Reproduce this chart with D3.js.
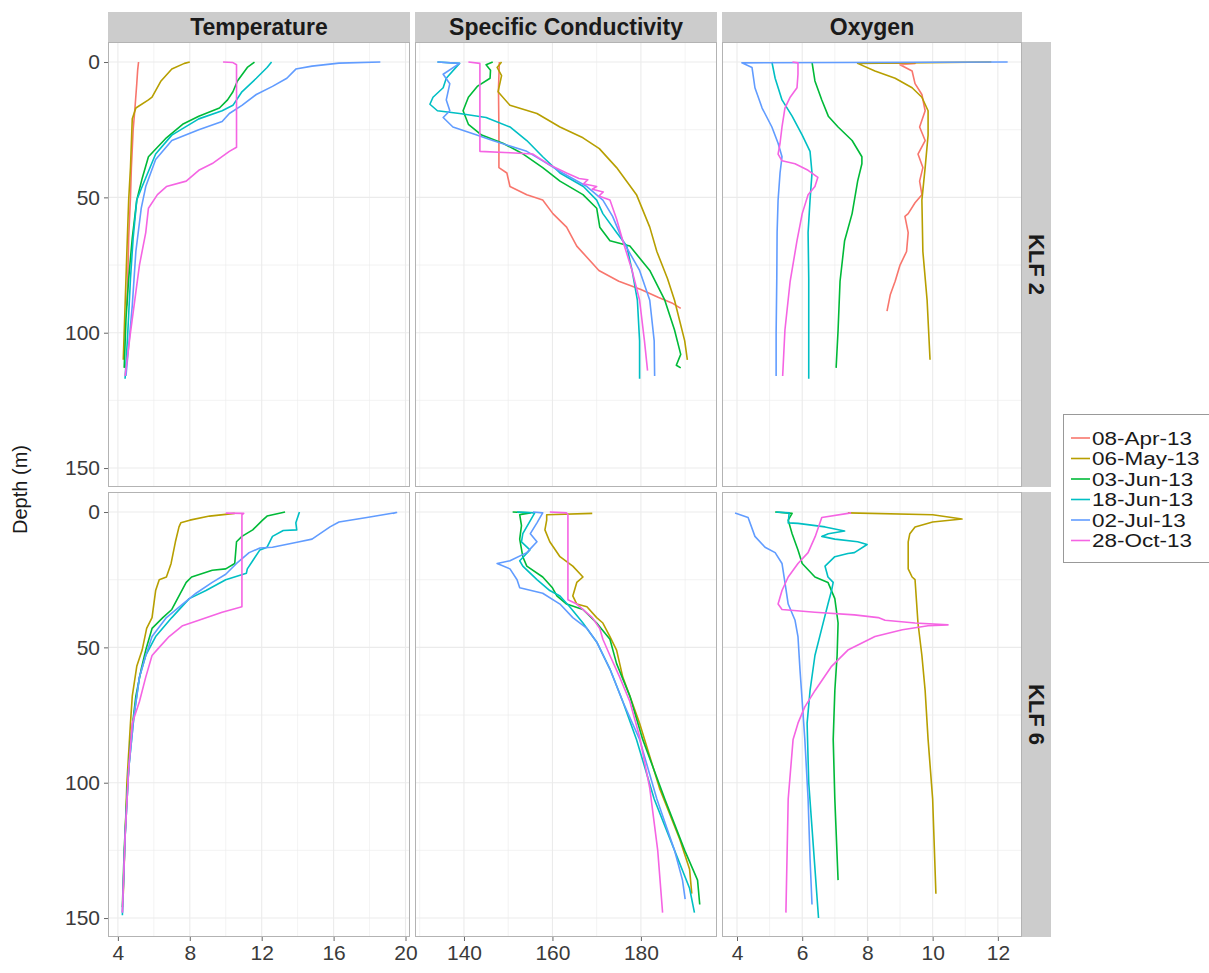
<!DOCTYPE html>
<html><head><meta charset="utf-8">
<script src="https://cdn.jsdelivr.net/npm/d3@7"></script>
<style>
body{margin:0;background:#fff;}
svg text{font-family:"Liberation Sans",Arial,sans-serif;}
</style></head>
<body><svg id="chart" width="1209" height="973"></svg>
<script>
// ---------------- data ----------------
const dates = ["08-Apr-13","06-May-13","03-Jun-13","18-Jun-13","02-Jul-13","28-Oct-13"];
const colors = ["#F8766D","#B79F00","#00BA38","#00BFC4","#619CFF","#F564E3"];
const variables = ["Temperature","Specific Conductivity","Oxygen"];
const sites = ["KLF 2","KLF 6"];
const depthTicks = [0,50,100,150];
const tempTicks = [4,8,12,16,20];
const condTicks = [140,160,180];
const oxyTicks = [4,6,8,10,12];

// each series: [value, depth]; order follows dates, null = not sampled
const klf2Temperature = [
  [[5.15,0],[5.1,3],[5.05,8],[4.95,17],[4.85,25],[4.75,39],[4.7,50],[4.6,65],[4.55,80],[4.5,90]],
  [[8.0,0],[7.7,0.5],[7.0,2.6],[6.4,7],[5.9,13],[5.7,14],[5.0,17],[4.8,21],[4.7,39],[4.6,51],[4.5,70],[4.4,90],[4.3,110]],
  [[11.6,0],[11.2,2],[10.65,7],[10.4,11],[10.1,14],[9.65,17],[8.5,20],[7.6,23],[6.7,28],[5.7,35],[5.35,43],[5.05,51],[4.8,65],[4.6,80],[4.45,95],[4.35,113]],
  [[12.55,0],[12.3,2],[11.7,6],[10.9,11],[10.4,16],[9.8,18],[8.5,21],[7.0,27],[6.1,34],[5.35,46],[5.05,51],[4.85,65],[4.7,80],[4.55,100],[4.4,117]],
  [[18.6,0],[16.3,0.4],[14.8,1.5],[13.9,2.6],[13.4,6],[12.6,9],[11.7,12],[10.9,16],[10.2,19],[9.8,22],[8.5,25],[7.0,29],[6.1,36],[5.55,46],[5.3,54],[5.0,70],[4.8,90],[4.6,105],[4.45,116]],
  [[9.85,0],[10.4,0.2],[10.6,1],[10.6,15],[10.6,31.5],[10.2,33],[9.25,37.5],[8.5,40],[7.8,44],[6.7,46],[6.2,49],[5.7,54],[5.55,63],[5.2,75],[5.0,85],[4.7,100],[4.4,116]]
];
const klf2Conductivity = [
  [[148,0],[147.8,10],[147.9,25],[147.9,39],[149.7,41],[150.4,46],[154.2,49],[157.8,51],[160.1,56],[163.2,61],[165.5,68],[170.5,77],[175,81],[180,84],[184,87],[187,89],[189,91]],
  [[148.5,0],[147.5,2],[148.5,5],[147.7,11],[150.4,16],[156.5,19],[161.7,24],[166.9,28],[170.6,32],[174.5,39],[179,49],[182,61],[183.6,70],[186,80],[187.6,88],[189.9,103],[190.5,110]],
  [[146.5,0],[145,1],[146,3],[145.9,6],[143,9],[141,13],[139.8,18],[141,23],[144,27],[148.8,30],[153.4,34],[157.8,39],[161.7,44],[166.9,49],[170,54],[170.7,61],[173,66],[177.5,68],[182,77],[185.4,88],[187.6,99],[189,108],[188,112],[189,113]],
  [[134,0],[139,0.5],[136,6],[135.3,9.5],[133,13],[132.3,15.6],[134,18],[139,19],[145,20.5],[150.4,24],[154.2,29],[157.8,35],[161.7,41],[167,46],[170,51],[171.4,56],[174.5,63],[176.8,68],[178,77],[179.2,88],[179.7,103],[179.7,117]],
  [[134,0],[139,0.5],[135.3,4.5],[136.8,8],[136,14],[136.8,18],[135.3,20.5],[137.5,24],[142.9,27],[146.5,29],[154.2,33],[157.8,36.5],[162.3,41],[167.8,46],[171.4,51],[173.6,57],[175.9,66],[179.7,77],[182,88],[183,103],[183.1,116]],
  [[141,0],[143.6,0.5],[143.6,15],[143.6,33],[150.4,33.5],[155.6,34],[159.4,38],[163.2,41],[166,43],[168,43.5],[167,45],[170,46],[169,47],[171.5,48],[170.5,49.5],[173,51],[174.5,58],[175.9,66],[178,77],[179.7,88],[180.8,103],[181.5,114]]
];
const klf2Oxygen = [
  [[8.45,0.3],[9.46,0.5],[9.0,1],[9.37,3.3],[9.46,8],[9.67,12],[9.77,18],[9.6,24],[9.77,29],[9.55,34],[9.7,39],[9.6,44],[9.67,49],[9.46,52],[9.25,56],[9.15,57],[9.25,63],[9.2,70],[9.0,75],[8.85,81],[8.7,86],[8.6,92]],
  [[11.8,0],[7.7,0.5],[8.23,3.3],[8.85,6],[9.37,9.5],[9.67,13],[9.86,18],[9.86,27],[9.77,39],[9.67,51],[9.7,70],[9.83,88],[9.92,110]],
  [[6.3,0],[6.39,7],[6.6,14],[6.8,20],[7.1,24],[7.53,29],[7.83,35],[7.83,37.6],[7.7,44],[7.53,56],[7.3,66],[7.16,81],[7.1,99],[7.04,113]],
  [[5.07,0],[5.17,6],[5.38,14],[5.69,20],[6.0,27],[6.24,33],[6.3,41],[6.24,51],[6.18,63],[6.2,80],[6.2,100],[6.2,117]],
  [[12.3,0],[4.15,0.3],[4.46,2],[4.55,9.5],[4.77,17],[5.07,24],[5.26,30],[5.38,35],[5.32,41],[5.26,51],[5.23,63],[5.22,80],[5.2,100],[5.2,116]],
  [[5.7,0],[5.87,0.3],[5.87,4.5],[5.84,9.5],[5.63,13],[5.47,17],[5.38,24],[5.32,30],[5.26,34],[5.38,36.5],[5.78,37.6],[6.18,40],[6.48,42.6],[6.39,46],[6.18,49],[6.0,56],[5.84,66],[5.63,81],[5.47,99],[5.4,116]]
];
const klf6Temperature = [
  null,
  [[10.5,0.5],[9.1,1.5],[8.0,3],[7.5,4],[7.4,5.5],[7.2,11],[6.96,19],[6.7,24],[6.3,25],[6.1,29],[5.9,39],[5.6,43],[5.35,51],[5.05,57],[4.8,68],[4.7,78],[4.5,100],[4.4,120],[4.3,141]],
  [[13.3,0],[12.3,1.5],[12.05,3],[11.5,6.6],[10.9,9],[10.6,11],[10.5,19],[10.0,21],[9.25,21.5],[8.1,24],[7.8,26],[7.4,31],[7.0,36],[6.5,39],[5.9,43],[5.55,51],[5.3,58],[5.0,68],[4.7,85],[4.5,105],[4.35,125],[4.25,146]],
  [[14.1,0],[13.9,4],[13.95,6.6],[13.2,6.8],[12.6,9],[12.3,13],[11.9,14],[11.5,18],[11.2,21],[11.15,22.6],[10.0,25],[8.9,29],[7.97,32],[7.0,39],[6.1,46],[5.55,53],[5.2,61],[4.9,75],[4.6,95],[4.4,120],[4.25,149]],
  [[19.3,0.5],[19.5,0.2],[17.85,2],[16.3,3.7],[15.8,5.5],[14.8,10],[14.1,11],[12.6,13],[11.9,13.3],[11.3,15],[10.6,19],[10.0,23],[9.25,26],[8.35,30],[7.6,34],[6.7,39],[5.9,46],[5.55,53],[5.2,61],[4.9,75],[4.6,95],[4.4,120],[4.25,148]],
  [[10.0,0.4],[11.0,0.5],[10.9,1],[10.9,15],[10.9,35],[9.8,37],[8.5,40],[7.6,42],[6.85,46],[6.3,50],[5.9,53],[5.55,61],[5.2,70],[4.8,78],[4.6,95],[4.4,120],[4.25,148]]
];
const klf6Conductivity = [
  null,
  [[169,0.5],[158.7,1],[158.7,3],[158.3,6.6],[159.4,11],[161.7,16.5],[164.6,20],[166.9,24],[165.5,26],[164.6,31],[165.5,34],[167.8,35],[170,39],[171.4,41],[173,46],[174.5,51],[175.2,56],[175.9,61],[177.5,68],[179.7,78],[184.2,102],[188.8,121],[191,132],[191.5,141]],
  [[151,0],[155,0.3],[152.6,1],[153,5],[152.6,10],[153.3,16.5],[154.2,20],[157.8,24],[160,28],[161,31],[163.2,34],[166.9,36],[170,41],[173,47],[174.5,56],[177.5,68],[180.4,84],[185.4,106],[189.9,125],[192.8,136],[193.3,145]],
  [[152,0],[156,0.3],[153.3,8],[153,11],[154.9,14],[152.6,18],[153.3,20],[156.5,25],[159.4,29],[161.7,31],[163.9,35],[166.9,41],[170,48],[173,58],[175.9,70],[179,84],[183,106],[187.6,125],[191,139],[192.1,148]],
  [[155.6,0],[157.8,0.3],[156.5,4],[155,8],[156.5,11],[154.2,15],[150.4,18],[147.5,19],[150.4,21],[152,25],[152.6,28],[157.8,30],[161.7,34],[164.6,39],[167.8,43],[170,48],[173,58],[175.9,70],[179.7,84],[183.6,106],[187.6,125],[189.4,136],[190,143]],
  [[159.4,0],[163.2,0.3],[163.5,1],[163.5,15],[163.5,32.4],[165.5,34],[169,39],[170.7,43],[171.4,47],[173,53],[175.2,61],[177.5,70],[179.7,83],[182,102],[183.8,125],[184.9,148]]
];
const klf6Oxygen = [
  null,
  [[7.4,0.3],[10.0,1.0],[10.9,2.6],[10.0,3.7],[9.46,5.5],[9.3,8],[9.25,11],[9.25,21],[9.37,24],[9.46,25],[9.55,41],[9.67,53],[9.77,66],[9.86,84],[10.0,106],[10.1,141]],
  [[5.17,0],[5.69,0.5],[5.57,3],[5.69,8],[5.87,14],[6.0,19],[6.39,24],[6.79,26],[7.0,32],[7.1,41],[7.07,53],[7.0,66],[6.95,84],[7.0,106],[7.1,136]],
  [[5.2,0],[5.6,0.3],[5.57,4],[5.87,4.2],[6.7,5.5],[7.3,7],[6.8,8],[6.6,9],[7.0,10],[7.7,11],[7.99,12],[7.6,15],[7.4,15.3],[7.0,16.5],[6.7,20],[6.79,24],[6.95,26],[6.9,29],[6.79,34],[6.6,43],[6.39,53],[6.24,66],[6.15,78],[6.2,100],[6.35,125],[6.5,150]],
  [[3.94,0.4],[4.34,2],[4.55,9],[4.86,13],[5.17,15],[5.38,19],[5.47,26],[5.57,34],[5.78,40],[5.87,46],[5.93,58],[6.0,70],[6.08,84],[6.18,106],[6.24,128],[6.3,145]],
  [[7.5,0.3],[6.6,2],[6.4,9],[6.18,15],[5.87,19],[5.57,24],[5.38,29],[5.26,34],[5.38,36],[6.39,37],[7.6,38],[8.33,39],[8.54,40],[9.46,41],[10.47,41.7],[9.86,42],[9.07,43.5],[8.23,46],[7.4,51],[6.9,57],[6.39,66],[6.08,72],[5.87,78],[5.72,84],[5.57,106],[5.5,148]]
];

// ---------------- layout ----------------
const svg = d3.select("#chart");
const colX = [[108,410],[415,717],[722,1022]];
const rowY = [[42,487],[492,937]];
const xDomains = [[3.45,20.25],[128.93,197.2],[3.54,12.74]];
const xTicks = [tempTicks, condTicks, oxyTicks];
const depthDomain = [-7.4,157];
const panelData = [
  [klf2Temperature, klf2Conductivity, klf2Oxygen],
  [klf6Temperature, klf6Conductivity, klf6Oxygen]
];
const font = '"Liberation Sans",Arial,sans-serif';
const gridCol = "#ebebeb";

const xScales = colX.map((r,i)=>d3.scaleLinear().domain(xDomains[i]).range(r));
const yScales = rowY.map(r=>d3.scaleLinear().domain(depthDomain).range(r));

function minorBreaks(ticks, domain){
  const step = ticks[1]-ticks[0];
  const out=[];
  for(let v=ticks[0]-step/2; v<=domain[1]; v+=step){ if(v>=domain[0]) out.push(v); }
  return out.filter(v=>!ticks.includes(v));
}

const defs = svg.append("defs");

rowY.forEach((ry,ri)=>{
  colX.forEach((cx,ci)=>{
    const x = xScales[ci], y = yScales[ri];
    const g = svg.append("g");
    g.append("rect").attr("x",cx[0]).attr("y",ry[0]).attr("width",cx[1]-cx[0]).attr("height",ry[1]-ry[0]).attr("fill","#fff");
    minorBreaks(xTicks[ci], xDomains[ci]).forEach(v=>{
      g.append("line").attr("x1",x(v)).attr("x2",x(v)).attr("y1",ry[0]).attr("y2",ry[1]).attr("stroke",gridCol).attr("stroke-width",0.6);
    });
    minorBreaks(depthTicks, depthDomain).forEach(v=>{
      g.append("line").attr("y1",y(v)).attr("y2",y(v)).attr("x1",cx[0]).attr("x2",cx[1]).attr("stroke",gridCol).attr("stroke-width",0.6);
    });
    xTicks[ci].forEach(v=>{
      g.append("line").attr("x1",x(v)).attr("x2",x(v)).attr("y1",ry[0]).attr("y2",ry[1]).attr("stroke",gridCol).attr("stroke-width",1.1);
    });
    depthTicks.forEach(v=>{
      g.append("line").attr("y1",y(v)).attr("y2",y(v)).attr("x1",cx[0]).attr("x2",cx[1]).attr("stroke",gridCol).attr("stroke-width",1.1);
    });
    const id = `clip${ri}${ci}`;
    defs.append("clipPath").attr("id",id).append("rect").attr("x",cx[0]).attr("y",ry[0]).attr("width",cx[1]-cx[0]).attr("height",ry[1]-ry[0]);
    const line = d3.line().x(d=>x(d[0])).y(d=>y(d[1]));
    const lg = g.append("g").attr("clip-path",`url(#${id})`);
    panelData[ri][ci].forEach((s,si)=>{
      if(!s) return;
      lg.append("path").attr("d",line(s)).attr("fill","none").attr("stroke",colors[si]).attr("stroke-width",1.6).attr("stroke-linejoin","round");
    });
    g.append("rect").attr("x",cx[0]+0.5).attr("y",ry[0]+0.5).attr("width",cx[1]-cx[0]-1).attr("height",ry[1]-ry[0]-1).attr("fill","none").attr("stroke","#b3b3b3").attr("stroke-width",1);
  });
});

// y axes (left)
rowY.forEach((ry,ri)=>{
  const ax = d3.axisLeft(yScales[ri]).tickValues(depthTicks).tickSize(4).tickPadding(4);
  const g = svg.append("g").attr("transform",`translate(${colX[0][0]},0)`).call(ax);
  g.select(".domain").remove();
  g.selectAll(".tick line").attr("stroke","#666");
  g.selectAll(".tick text").attr("font-size",21).attr("fill","#3a3a3a").attr("font-family",font);
});
// x axes (bottom)
colX.forEach((cx,ci)=>{
  const ax = d3.axisBottom(xScales[ci]).tickValues(xTicks[ci]).tickSize(4).tickPadding(4).tickFormat(d3.format("d"));
  const g = svg.append("g").attr("transform",`translate(0,${rowY[1][1]})`).call(ax);
  g.select(".domain").remove();
  g.selectAll(".tick line").attr("stroke","#666");
  g.selectAll(".tick text").attr("font-size",21).attr("fill","#3a3a3a").attr("font-family",font);
});

// top strips
colX.forEach((cx,ci)=>{
  svg.append("rect").attr("x",cx[0]).attr("y",12).attr("width",cx[1]-cx[0]).attr("height",rowY[0][0]-12).attr("fill","#cccccc");
  svg.append("text").attr("x",(cx[0]+cx[1])/2).attr("y",35).attr("text-anchor","middle")
    .attr("font-size",23).attr("font-weight","bold").attr("fill","#1a1a1a").text(variables[ci]);
});
// right strips
rowY.forEach((ry,ri)=>{
  svg.append("rect").attr("x",1022).attr("y",ry[0]).attr("width",29).attr("height",ry[1]-ry[0]).attr("fill","#cccccc");
  const cy=(ry[0]+ry[1])/2;
  svg.append("text").attr("transform",`translate(1029,${cy}) rotate(90)`).attr("text-anchor","middle")
    .attr("font-size",22).attr("font-weight","bold").attr("fill","#1a1a1a").text(sites[ri]);
});

// y label
svg.append("text").attr("transform",`translate(27,${(rowY[0][0]+rowY[1][1])/2}) rotate(-90)`).attr("text-anchor","middle")
  .attr("font-size",20).attr("fill","#1a1a1a").text("Depth (m)");

// legend
const lgX=1063, lgY=414;
svg.append("rect").attr("x",lgX+0.5).attr("y",lgY+0.5).attr("width",160).attr("height",148).attr("fill","#fff").attr("stroke","#999");
dates.forEach((d,i)=>{
  const cy = lgY+24+i*20.5;
  svg.append("line").attr("x1",lgX+8).attr("x2",lgX+27).attr("y1",cy).attr("y2",cy).attr("stroke",colors[i]).attr("stroke-width",1.6);
  svg.append("text").attr("transform",`translate(${lgX+29},${cy+6.5}) scale(1.25,1)`).attr("font-size",18).attr("fill","#1a1a1a").text(d);
});
</script></body></html>
